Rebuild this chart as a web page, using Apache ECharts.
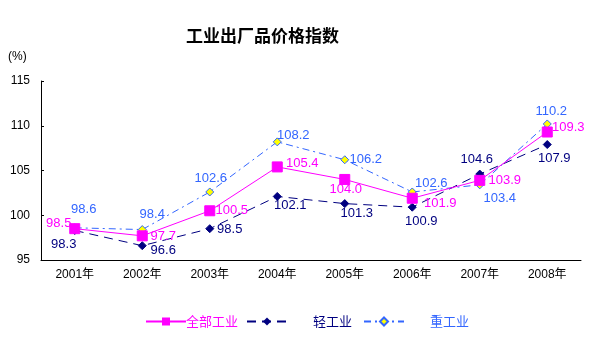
<!DOCTYPE html>
<html>
<head>
<meta charset="utf-8">
<script src="https://cdn.jsdelivr.net/npm/echarts@6/dist/echarts.min.js"></script>
<style>html,body{margin:0;padding:0;background:#fff}#c{width:591px;height:340px}</style>
</head>
<body>
<div id="c"></div>
<script>
// ---- data ----
var categories = ['2001年','2002年','2003年','2004年','2005年','2006年','2007年','2008年'];
var allIndustry = [98.5, 97.7, 100.5, 105.4, 104.0, 101.9, 103.9, 109.3];
var lightIndustry = [98.3, 96.6, 98.5, 102.1, 101.3, 100.9, 104.6, 107.9];
var heavyIndustry = [98.6, 98.4, 102.6, 108.2, 106.2, 102.6, 103.4, 110.2];
var seriesNames = ['全部工业', '轻工业', '重工业'];
var yTicks = [95, 100, 105, 110, 115];

// ---- label layout (offsets of label centre from point, px) ----
var allOffsets = [[-16,-5],[21,1],[22,0],[25,-3],[1,10],[28,5],[25,0],[21,-5]];
var lightOffsets = [[-11,14],[21,5],[20,1],[13,9],[12,10],[9,14],[-3,-15],[7,14]];
var heavyOffsets = [[9,-18],[10,-15],[1,-14],[16,-6],[21,0],[19,-9],[20,14],[4,-13]];

var labelFont = '"Liberation Sans",Arial,sans-serif';
function mk(vals, offs, color) {
  return vals.map(function (v, i) {
    return {
      value: v,
      label: {
        show: true, position: 'inside', offset: offs[i],
        color: color, fontFamily: labelFont, fontSize: 13,
        align: 'center', verticalAlign: 'middle',
        formatter: function (p) { return p.value.toFixed(1); }
      }
    };
  });
}

var C_ALL = '#FF00FF', C_LIGHT = '#000080', C_HEAVY = '#3366FF';
var cjk = '"Noto Sans CJK SC","Noto Sans",sans-serif';

function legend(name, left, pad, color) {
  return {
    data: [name], left: left, top: 310, itemWidth: 40, itemHeight: 10, itemGap: 0,
    selectedMode: false,
    textStyle: { color: color, fontFamily: cjk, fontSize: 13, padding: [0, 0, 0, pad] }
  };
}

var chart = echarts.init(document.getElementById('c'), null, { renderer: 'canvas' });
chart.setOption({
  animation: false,
  backgroundColor: '#fff',
  title: {
    text: '工业出厂品价格指数', left: 181, top: 22,
    textStyle: { fontFamily: cjk, fontSize: 17, fontWeight: 'bold', color: '#000' }
  },
  graphic: [{
    type: 'text', left: 8, top: 51,
    style: { text: '(%)', fontSize: 12, fontFamily: '"Liberation Sans",Arial,sans-serif', fill: '#000' }
  }],
  legend: [
    legend(seriesNames[0], 140, -5, C_ALL),
    legend(seriesNames[1], 241, 21, C_LIGHT),
    legend(seriesNames[2], 358, 21, C_HEAVY)
  ],
  grid: { left: 41, right: 10, top: 81, bottom: 80, containLabel: false },
  xAxis: {
    type: 'category', data: categories, boundaryGap: true,
    axisLine: { lineStyle: { color: '#000', width: 1 } },
    axisTick: { inside: true, length: 3, lineStyle: { color: '#000' } },
    axisLabel: { color: '#000', fontSize: 12, fontFamily: '"Liberation Sans","Noto Sans CJK SC",sans-serif', margin: 9 },
    splitLine: { show: false }
  },
  yAxis: {
    type: 'value', min: yTicks[0], max: yTicks[yTicks.length - 1], interval: 5,
    axisLine: { show: true, lineStyle: { color: '#000', width: 1 } },
    axisTick: { show: true, inside: true, length: 3, lineStyle: { color: '#000' } },
    axisLabel: { color: '#000', fontSize: 12, fontFamily: '"Liberation Sans",Arial,sans-serif', margin: 11 },
    splitLine: { show: false }
  },
  series: [
    {
      name: seriesNames[0], type: 'line', data: mk(allIndustry, allOffsets, C_ALL), z: 4,
      symbol: 'rect', symbolSize: 10,
      lineStyle: { color: C_ALL, width: 1 },
      itemStyle: { color: C_ALL, borderColor: C_ALL }
    },
    {
      name: seriesNames[1], type: 'line', data: mk(lightIndustry, lightOffsets, C_LIGHT), z: 3,
      symbol: 'diamond', symbolSize: 8,
      lineStyle: { color: C_LIGHT, width: 1, type: [9, 6] },
      itemStyle: { color: C_LIGHT, borderColor: C_LIGHT }
    },
    {
      name: seriesNames[2], type: 'line', data: mk(heavyIndustry, heavyOffsets, C_HEAVY), z: 2,
      symbol: 'diamond', symbolSize: 8,
      lineStyle: { color: C_HEAVY, width: 1, type: [7, 4, 2, 4] },
      itemStyle: { color: '#FFFF00', borderColor: C_HEAVY, borderWidth: 1 }
    }
  ]
});
</script>
</body>
</html>
